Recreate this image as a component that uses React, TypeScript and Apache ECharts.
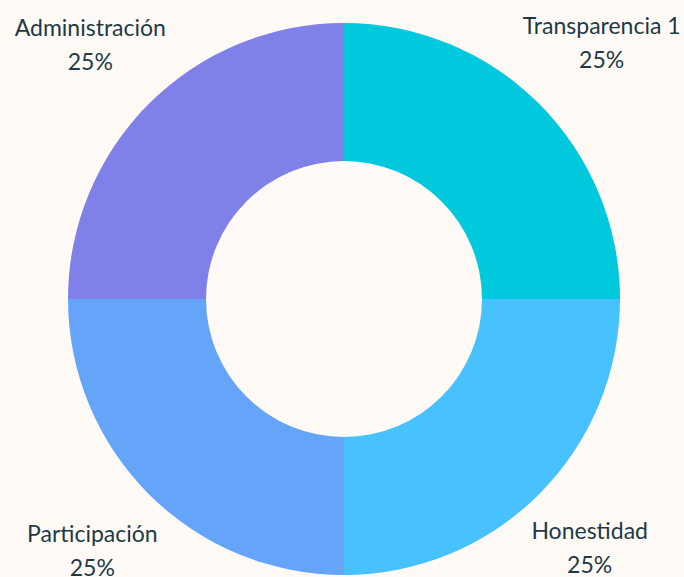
import React, { useEffect, useRef } from "react";
import * as echarts from "echarts";

const categories = ["Transparencia 1", "Honestidad", "Participación", "Administración"];
const values = [25, 25, 25, 25];
const colors = ["#00C9DD", "#48C2FF", "#64A5F9", "#7F80E8"];
const labelNudgeX = [-4, -16, 10, 8];
const labelNudgeY = [0, 5, 8, 2];

export default function App() {
  const ref = useRef<HTMLDivElement>(null);
  useEffect(() => {
    document.body.style.margin = "0";
    document.body.style.background = "#FFFAF5";
    const chart = echarts.init(ref.current!, null, { renderer: "svg" });
    chart.setOption({
      animation: false,
      backgroundColor: "#FFFAF5",
      series: [
        {
          type: "pie",
          center: [344, 299],
          radius: [138, 276],
          startAngle: 90,
          clockwise: true,
          avoidLabelOverlap: true,
          data: categories.map((c, i) => ({
            name: c,
            value: values[i],
            itemStyle: { color: colors[i] },
          })),
          label: {
            show: true,
            position: "outside",
            formatter: "{b}\n{d}%",
            color: "#1D3A48",
            fontFamily: "Lato",
            fontSize: 23,
            lineHeight: 34,
            overflow: "none",
          },
          labelLine: { show: false, length: 87, length2: 0 },
          labelLayout: (p: any) => ({
            align: "center",
            dx: labelNudgeX[p.dataIndex],
            dy: labelNudgeY[p.dataIndex],
          }),
        },
      ],
    });
    return () => chart.dispose();
  }, []);
  return <div ref={ref} style={{ width: 684, height: 577 }} />;
}
